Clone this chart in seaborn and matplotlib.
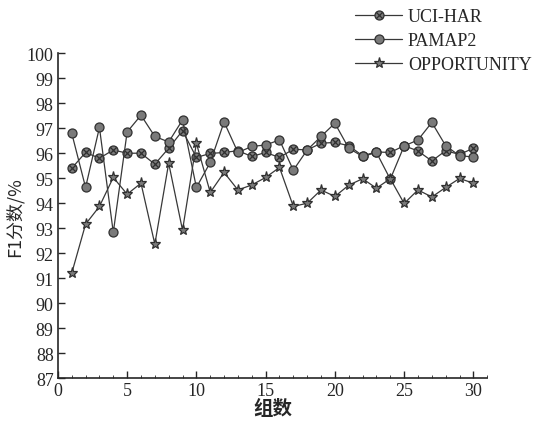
import numpy as np
import pandas as pd
import matplotlib
matplotlib.use('Agg')
import matplotlib.pyplot as plt
from matplotlib.path import Path
from matplotlib.ticker import MultipleLocator
import seaborn as sns

# data
groups = list(range(1, 31))
uci_har = [95.4, 96.03, 95.8, 96.13, 96.0, 96.0, 95.56, 96.2, 96.9, 95.83,
           95.99, 96.03, 96.1, 95.87, 96.03, 95.83, 96.16, 96.13, 96.4, 96.43,
           96.3, 95.9, 96.05, 96.03, 96.3, 96.09, 95.69, 96.1, 95.95, 96.2]
pamap2 = [96.8, 94.63, 97.03, 92.83, 96.85, 97.52, 96.67, 96.45, 97.33, 94.63,
          95.63, 97.25, 96.03, 96.27, 96.33, 96.53, 95.32, 96.13, 96.67, 97.2,
          96.2, 95.87, 96.03, 94.96, 96.29, 96.53, 97.23, 96.3, 95.9, 95.85]
opportunity = [91.2, 93.16, 93.87, 95.03, 94.36, 94.8, 92.36, 95.6, 92.92, 96.4,
               94.43, 95.23, 94.53, 94.73, 95.03, 95.43, 93.87, 94.0, 94.53, 94.27,
               94.72, 94.98, 94.6, 94.98, 93.99, 94.53, 94.25, 94.63, 94.99, 94.8]
series_names = ['UCI-HAR', 'PAMAP2', 'OPPORTUNITY']

df = pd.DataFrame({'组数': groups * 3,
                   'F1': uci_har + pamap2 + opportunity,
                   '数据集': np.repeat(series_names, len(groups))})

sns.set_style('ticks')
plt.rcParams['font.family'] = ['Liberation Serif', 'Noto Sans CJK SC']

# circle with a cross inside, for UCI-HAR
circ = Path.unit_circle()
verts = list(circ.vertices) + [(-0.7, -0.7), (0.7, 0.7), (-0.7, 0.7), (0.7, -0.7)]
codes = list(circ.codes) + [Path.MOVETO, Path.LINETO, Path.MOVETO, Path.LINETO]
crossed = Path(verts, codes)

fig, ax = plt.subplots(figsize=(5.36, 4.27), dpi=100)
fig.subplots_adjust(left=0.108, right=0.909, bottom=0.112, top=0.873)

styles = {'UCI-HAR': dict(marker=crossed, markersize=6.5),
          'PAMAP2': dict(marker='o', markersize=6.5),
          'OPPORTUNITY': dict(marker='*', markersize=8)}
for name in series_names:
    sns.lineplot(data=df[df['数据集'] == name], x='组数', y='F1', ax=ax,
                 color='#383838', linewidth=0.9, label=name,
                 markerfacecolor='#7a7a7a', markeredgecolor='#303030',
                 markeredgewidth=0.9, **styles[name])

ax.set_xlim(0, 31)
ax.set_ylim(87, 100)
ax.set_xticks(range(0, 31, 5))
ax.xaxis.set_minor_locator(MultipleLocator(1))
ax.set_yticks(range(87, 101))
ax.tick_params(axis='both', which='major', direction='in', length=5,
               labelsize=13, width=1, pad=3)
ax.tick_params(axis='x', which='minor', direction='in', length=2.5)
for s in ['top', 'right']:
    ax.spines[s].set_visible(False)
for s in ['left', 'bottom']:
    ax.spines[s].set_linewidth(1.2)

ax.set_xlabel('组数', fontsize=14, fontweight='bold', labelpad=0,
              family=['Noto Sans CJK SC'])
ax.set_ylabel('F1分数/%', fontsize=13, labelpad=2,
              family=['Noto Sans CJK SC'])

leg = ax.legend(loc='upper right', bbox_to_anchor=(1.12, 1.16), frameon=False,
                fontsize=13, handlelength=2.6, handletextpad=0.3,
                labelspacing=0.38, borderaxespad=0)

fig.savefig('out.png', dpi=100)
